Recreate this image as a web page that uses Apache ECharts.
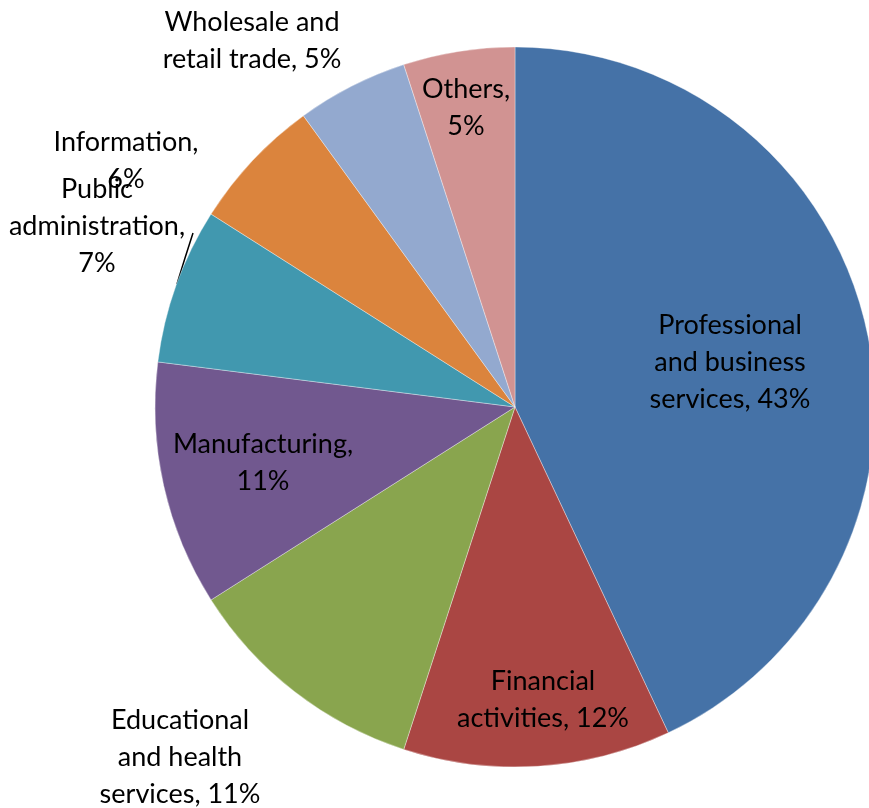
<!DOCTYPE html>
<html>
<head>
<meta charset="utf-8">
<script src="https://cdn.jsdelivr.net/npm/echarts@6/dist/echarts.min.js"></script>
<style>
  html, body { margin: 0; padding: 0; background: #ffffff; }
  #chart { width: 869px; height: 808px; }
</style>
</head>
<body>
<div id="chart"></div>
<script>
// Employment share by industry, percent
const categories = [
  'Professional\nand business\nservices',
  'Financial\nactivities',
  'Educational\nand health\nservices',
  'Manufacturing',
  'Public\nadministration',
  'Information',
  'Wholesale and\nretail trade',
  'Others'
];
const shares = [43, 12, 11, 11, 7, 6, 5, 5];
const colors = ['#4572A7', '#AA4643', '#89A54E', '#71588F', '#4198AF', '#DB843D', '#93A9CF', '#D19392'];

// Label text placement (centre of each label block) and the one leader line
const labelCentres = [
  [730, 362], [543, 700], [180, 757], [263, 463],
  [97, 226], [126, 161], [252, 41], [466, 108]
];
const publicAdminLeader = [[177, 284], [185, 258], [193, 233]];

// Label text: name with a trailing comma, then the share
function labelText(name, value) {
  const lines = name.split('\n');
  const joinable = { 'Manufacturing': true, 'Information': true, 'Others': true };
  if (joinable[name]) return name + ',\n' + value + '%';
  if (name === 'Public\nadministration') return 'Public\nadministration,\n' + value + '%';
  const last = lines.pop();
  lines.push(last + ', ' + value + '%');
  return lines.join('\n');
}

const pieData = categories.map((c, i) => ({
  name: c,
  value: shares[i],
  itemStyle: { color: colors[i] },
  labelLine: { show: i === 4 }
}));

const chart = echarts.init(document.getElementById('chart'), null, { renderer: 'canvas' });
chart.setOption({
  animation: false,
  backgroundColor: '#ffffff',
  series: [{
    type: 'pie',
    center: [515, 407],
    radius: 360,
    startAngle: 90,
    clockwise: true,
    avoidLabelOverlap: false,
    data: pieData,
    itemStyle: { borderColor: 'rgba(255,255,255,0.35)', borderWidth: 1 },
    label: {
      show: true,
      position: 'outside',
      color: '#000000',
      fontFamily: 'Lato',
      fontSize: 27,
      lineHeight: 37,
      align: 'center',
      formatter: p => labelText(p.name, p.value)
    },
    labelLine: {
      lineStyle: { color: '#000000', width: 1.5 }
    },
    emphasis: { disabled: true },
    labelLayout: function (params) {
      const c = labelCentres[params.dataIndex];
      const out = { x: c[0], y: c[1], align: 'center', verticalAlign: 'middle', hideOverlap: false };
      if (params.dataIndex === 4) out.labelLinePoints = publicAdminLeader;
      return out;
    }
  }]
});
</script>
</body>
</html>
